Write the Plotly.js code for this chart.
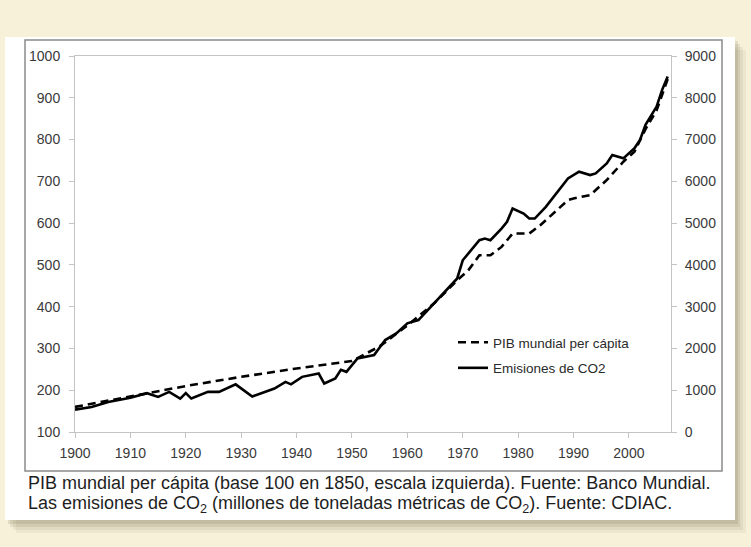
<!DOCTYPE html>
<html>
<head>
<meta charset="utf-8">
<script src="https://cdn.plot.ly/plotly-3.0.1.min.js"></script>
<style>
html,body{margin:0;padding:0;background:#f7f1da;}
#chart{width:751px;height:547px;}
</style>
</head>
<body>
<div id="chart"></div>
<script>
// PIB mundial per cápita (base 100 en 1850) — left axis
const pibYears = [1900,1910,1920,1930,1940,1950,1955,1960,1965,1969,1971,1973,1975,1977,1979,1982,1984,1989,1990,1993,1996,1999,2001,2003,2005,2007];
const pibValues = [160,185,210,232,252,270,305,355,410,463,487,523,523,543,575,575,595,655,659,667,703,747,771,825,870,945];

// Emisiones de CO2 (millones de toneladas métricas) — right axis
const co2Years = [1900,1903,1906,1910,1913,1915,1917,1918,1919,1920,1921,1924,1926,1929,1932,1936,1938,1939,1941,1944,1945,1947,1948,1949,1951,1954,1956,1958,1960,1962,1965,1969,1970,1973,1974,1975,1977,1978,1979,1981,1982,1983,1985,1989,1991,1993,1994,1996,1997,1999,2001,2002,2003,2005,2006,2007];
const co2Values = [536,600,720,820,930,840,960,870,800,930,800,960,960,1140,850,1040,1200,1140,1320,1400,1160,1280,1490,1440,1760,1840,2200,2360,2600,2680,3100,3675,4110,4590,4630,4590,4870,5030,5350,5230,5110,5110,5390,6070,6230,6150,6190,6430,6630,6550,6790,6990,7350,7790,8190,8510];

const seriesNames = ["PIB mundial per cápita", "Emisiones de CO2"];
const xTicks = [1900,1910,1920,1930,1940,1950,1960,1970,1980,1990,2000];
const captionLines = [
  "PIB mundial per cápita (base 100 en 1850, escala izquierda). Fuente: Banco Mundial.",
  "Las emisiones de CO<sub>2</sub> (millones de toneladas métricas de CO<sub>2</sub>). Fuente: CDIAC."
];

// pixel helpers (plot area: x 75..671, y 56..432)
const PL = 75, PR = 671, PT = 56, PB = 432;
const px = v => (v - PL) / (PR - PL);
const py = v => (PB - v) / (PB - PT);

const traces = [
  {x: pibYears, y: pibValues, name: seriesNames[0], type: 'scatter', mode: 'lines',
   line: {color: '#000', width: 2.6, dash: '8px,5px'}, yaxis: 'y', legendgroup: 'a'},
  {x: co2Years, y: co2Values, name: seriesNames[1], type: 'scatter', mode: 'lines',
   line: {color: '#000', width: 2.6}, yaxis: 'y2', legendgroup: 'b'}
];

const shapes = [];
// soft shadow of the panel
[[11, 13, 0.06], [8, 10, 0.08], [5, 7, 0.11], [3, 4, 0.12]].forEach(([dx, dy, op]) => {
  shapes.push({type: 'rect', xref: 'paper', yref: 'paper', layer: 'below',
    x0: px(5 + dx), x1: px(735 + dx), y0: py(37 + dy), y1: py(520 + dy),
    fillcolor: 'rgba(90,80,50,' + op + ')', line: {width: 0}});
});
// white panel
shapes.push({type: 'rect', xref: 'paper', yref: 'paper', layer: 'below',
  x0: px(5), x1: px(735), y0: py(37), y1: py(520), fillcolor: '#ffffff', line: {width: 0}});
// chart frame
shapes.push({type: 'rect', xref: 'paper', yref: 'paper', layer: 'below',
  x0: px(25), x1: px(722), y0: py(40), y1: py(471), fillcolor: 'rgba(0,0,0,0)',
  line: {color: '#8a8a8a', width: 1.5}});

const tickFont = {family: 'Liberation Sans, Arial, sans-serif', size: 14, color: '#3a3a3a'};
const axisCol = '#c4c4c4';

const layout = {
  width: 751, height: 547,
  margin: {l: PL, r: 751 - PR, t: PT, b: 547 - PB, pad: 0},
  paper_bgcolor: '#f7f1da',
  plot_bgcolor: 'rgba(0,0,0,0)',
  showlegend: true,
  legend: {x: px(453), y: py(327), xanchor: 'left', yanchor: 'top',
    bgcolor: 'rgba(0,0,0,0)', font: {family: 'Liberation Sans, Arial, sans-serif', size: 13.5, color: '#2a2a2a'},
    traceorder: 'grouped', tracegroupgap: 5, itemwidth: 30},
  xaxis: {range: [1900, 2007.6], tickvals: xTicks, ticktext: xTicks.map(String),
    showgrid: false, zeroline: false, showline: true, linecolor: axisCol, linewidth: 1,
    mirror: true, ticks: 'outside', ticklen: 5, tickcolor: axisCol, tickfont: tickFont,
    ticklabelstandoff: 3},
  yaxis: {range: [100, 1000], dtick: 100, tick0: 100, showgrid: false, zeroline: false,
    showline: true, linecolor: axisCol, linewidth: 1, ticks: 'outside', ticklen: 5,
    tickcolor: axisCol, tickfont: tickFont, ticklabelstandoff: 6},
  yaxis2: {range: [0, 9000], dtick: 1000, tick0: 0, overlaying: 'y', side: 'right',
    showgrid: false, zeroline: false, showline: true, linecolor: axisCol, linewidth: 1,
    ticks: 'outside', ticklen: 5, tickcolor: axisCol, tickfont: tickFont, ticklabelstandoff: 5},
  shapes: shapes,
  annotations: captionLines.map((t, i) => ({
    text: t, xref: 'paper', yref: 'paper', x: px(26), y: py(483 + i * 22),
    xanchor: 'left', yanchor: 'middle', showarrow: false,
    font: {family: 'Liberation Sans, Arial, sans-serif', size: 18, color: '#1e1e1e'}
  }))
};

Plotly.newPlot('chart', traces, layout, {displayModeBar: false, staticPlot: true});
</script>
</body>
</html>
